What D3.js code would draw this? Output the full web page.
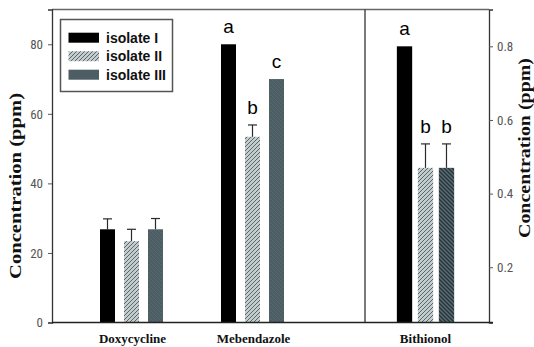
<!DOCTYPE html>
<html><head><meta charset="utf-8">
<script src="https://cdn.jsdelivr.net/npm/d3@7"></script>
<style>
html,body{margin:0;padding:0;background:#fff;}
svg{display:block;}
</style></head>
<body>
<script>
// ---- data ----
const categories = ["Doxycycline", "Mebendazole", "Bithionol"];
const series = ["isolate I", "isolate II", "isolate III"];
const isolateI   = [26.8, 80.0, 0.80];
const isolateII  = [23.4, 53.4, 0.47];
const isolateIII = [26.8, 70.0, 0.47];
const errI   = [3.0, 0, 0];
const errII  = [3.4, 3.4, 0.065];
const errIII = [3.1, 0, 0.065];
const lettersI   = ["", "a", "a"];
const lettersII  = ["", "b", "b"];
const lettersIII = ["", "c", "b"];
const leftTicks  = [0, 20, 40, 60, 80];
const rightTicks = [0.2, 0.4, 0.6, 0.8];
const rightAxisCategory = "Bithionol";
const axisTitle = "Concentration (ppm)";

// ---- layout ----
const W = 534, H = 347;
const L = 52, R = 489, T = 9.5, B = 322.5, DIV = 365;

const svg = d3.select("body").append("svg").attr("width", W).attr("height", H);
const defs = svg.append("defs");

function hatch(id, bg, fg, dir, sw) {
  const p = defs.append("pattern").attr("id", id).attr("patternUnits", "userSpaceOnUse")
    .attr("width", 4).attr("height", 4);
  p.append("rect").attr("width", 4).attr("height", 4).attr("fill", bg);
  const d = dir === "/" ? "M-1,1 l2,-2 M0,4 l4,-4 M3,5 l2,-2" : "M-1,3 l2,2 M0,0 l4,4 M3,-1 l2,2";
  p.append("path").attr("d", d).attr("stroke", fg).attr("stroke-width", sw);
}
hatch("hII", "#c4cdcd", "#59656a", "/", 1);
hatch("hIII", "#4c5d63", "#56686e", "\\", 1);
hatch("hIIIb", "#5b6d73", "#25323a", "\\", 1.3);

const fills = [
  () => "#000",
  () => "url(#hII)",
  (c) => c === rightAxisCategory ? "url(#hIIIb)" : "url(#hIII)"
];
const legendFills = ["#000", "url(#hII)", "#4c5d63"];

const yL = d3.scaleLinear().domain([0, 90]).range([B, T]);
const yR = d3.scaleLinear().domain([0.05, 0.9]).range([B, T]);

const xLeft = d3.scaleBand().domain(categories.filter(c => c !== rightAxisCategory)).range([71, 313]);
const xRight = d3.scaleBand().domain([rightAxisCategory]).range([365, 486]);
const innerL = d3.scaleBand().domain(series).range([0, 63]).paddingInner(0.375);
const innerR = d3.scaleBand().domain(series).range([0, 57.3]).paddingInner(0.27);

const values = [isolateI, isolateII, isolateIII];
const errs = [errI, errII, errIII];
const letters = [lettersI, lettersII, lettersIII];

const rows = [];
categories.forEach((c, ci) => {
  series.forEach((s, si) => {
    const right = c === rightAxisCategory;
    const xs = right ? xRight : xLeft;
    const inner = right ? innerR : innerL;
    const center = xs(c) + xs.bandwidth() / 2;
    const x = center - (inner.range()[1]) / 2 + inner(s);
    rows.push({c, s, si, x, w: inner.bandwidth(), y: right ? yR : yL,
      v: values[si][ci], e: errs[si][ci], lab: letters[si][ci], right});
  });
});

// bars
svg.append("g").selectAll("rect").data(rows).join("rect")
  .attr("x", d => d.x).attr("width", d => d.w)
  .attr("y", d => d.y(d.v)).attr("height", d => B - d.y(d.v))
  .attr("fill", d => fills[d.si](d.c));

// error bars
const eb = svg.append("g").attr("stroke", "#2a2a2a").attr("stroke-width", 1.2);
rows.filter(d => d.e > 0).forEach(d => {
  const cx = d.x + d.w / 2;
  eb.append("line").attr("x1", cx).attr("x2", cx).attr("y1", d.y(d.v)).attr("y2", d.y(d.v + d.e));
  eb.append("line").attr("x1", cx - 4.5).attr("x2", cx + 4.5).attr("y1", d.y(d.v + d.e)).attr("y2", d.y(d.v + d.e));
});

// letters
svg.append("g").selectAll("text").data(rows.filter(d => d.lab)).join("text")
  .attr("x", d => d.x + d.w / 2)
  .attr("y", d => d.y(d.v + d.e) - 11)
  .attr("text-anchor", "middle")
  .attr("font-family", "Liberation Sans, Arial, sans-serif")
  .attr("font-size", 19).attr("fill", "#000")
  .text(d => d.lab);

// frame
const fr = svg.append("g").attr("stroke", "#333").attr("stroke-width", 1.3).attr("fill", "none");
fr.append("line").attr("x1", L).attr("x2", R).attr("y1", T).attr("y2", T).attr("stroke", "#666");
fr.append("line").attr("x1", DIV).attr("x2", DIV).attr("y1", T).attr("y2", B);

// left axis
const gL = svg.append("g").attr("transform", `translate(${L},0)`)
  .call(d3.axisLeft(yL).tickValues(leftTicks).tickSize(4).tickPadding(5));
// right axis
const gR = svg.append("g").attr("transform", `translate(${R},0)`)
  .call(d3.axisRight(yR).tickValues(rightTicks).tickSize(4).tickPadding(4).tickFormat(d3.format(".1f")));
[gL, gR].forEach(g => {
  g.select(".domain").attr("stroke", "#333").attr("stroke-width", 1.3);
  g.selectAll(".tick line").attr("stroke", "#555");
  g.selectAll(".tick text").attr("font-family", "Liberation Sans Narrow, Arial Narrow, Roboto Condensed, sans-serif")
    .attr("font-size", 13).attr("fill", "#555");
});
// bottom line
svg.append("line").attr("x1", L).attr("x2", R + 4).attr("y1", B).attr("y2", B)
  .attr("stroke", "#222").attr("stroke-width", 1.4);

// category labels
svg.append("g").selectAll("text").data(categories).join("text")
  .attr("x", c => c === rightAxisCategory ? xRight(c) + xRight.bandwidth() / 2 : xLeft(c) + xLeft.bandwidth() / 2 + 1)
  .attr("y", 343)
  .attr("text-anchor", "middle")
  .attr("font-family", "Liberation Serif, Times New Roman, serif")
  .attr("font-weight", "bold").attr("font-size", 13).attr("fill", "#111")
  .text(c => c);

// axis titles
function vtitle(x, y, fs, len) {
  svg.append("text").attr("transform", `translate(${x},${y}) rotate(-90)`)
    .attr("text-anchor", "middle")
    .attr("font-family", "Liberation Serif, Times New Roman, serif")
    .attr("font-weight", "bold").attr("font-size", fs).attr("fill", "#111")
    .attr("textLength", len).attr("lengthAdjust", "spacingAndGlyphs")
    .text(axisTitle);
}
vtitle(21, 186, 17, 186);
vtitle(530, 148, 16, 180);

// legend
const lg = svg.append("g");
lg.append("rect").attr("x", 60.5).attr("y", 19.5).attr("width", 112).attr("height", 72)
  .attr("fill", "#fff").attr("stroke", "#555").attr("stroke-width", 1.5);
series.forEach((s, i) => {
  const cy = 37.7 + i * 18.5;
  lg.append("rect").attr("x", 68.5).attr("y", cy - 5).attr("width", 30.5).attr("height", 10)
    .attr("fill", legendFills[i]);
  lg.append("text").attr("x", 106).attr("y", cy + 5)
    .attr("font-family", "Liberation Sans, Arial, sans-serif").attr("font-weight", "bold")
    .attr("font-size", 14).attr("fill", "#111").text(s);
});
</script>
</body></html>
